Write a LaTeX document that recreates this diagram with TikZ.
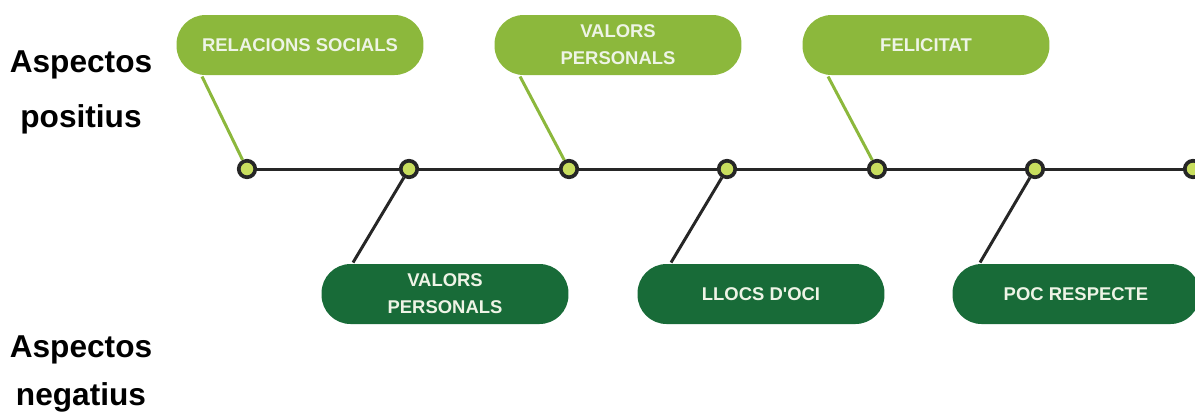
\documentclass[tikz,border=0pt]{standalone}
\usepackage{fontspec}
\setmainfont{Liberation Sans}
\usepackage{tikz}
\usepackage{xcolor}
\usetikzlibrary{positioning}

\definecolor{lightgreen}{HTML}{8CB83C}
\definecolor{darkgreen}{HTML}{186B38}
\definecolor{dotgreen}{HTML}{C8DE5E}
\definecolor{boxtext}{HTML}{EEF4E6}

\begin{document}
\begin{tikzpicture}[x=0.02cm, y=-0.02cm, line width=1.7pt,
                box node/.style={rounded corners=0.58cm, minimum width=4.94cm,
                  minimum height=1.2cm, align=center, inner sep=0pt, text=boxtext,
                  font=\fontsize{10.5}{15.3}\selectfont\bfseries},
                pos node/.style={box node, fill=lightgreen},
                neg node/.style={box node, fill=darkgreen},
                dot node/.style={circle, draw=black!85, fill=dotgreen, line width=2.1pt,
                  minimum size=0.33cm, inner sep=0pt},
                side label/.style={anchor=base, font=\fontsize{18}{20}\selectfont\bfseries}]

  \useasboundingbox (0,0) rectangle (1195,414);

  % side labels
  \node[side label] (p1) at (81,72) {Aspectos};
  \node[side label] (p2) at (81,127) {positius};
  \node[side label] (n1) at (81,357) {Aspectos};
  \node[side label] (n2) at (81,405) {negatius};

  % dots on the line
  \foreach \x [count=\i] in {247,409,569,727,877,1035,1193}
    \node[dot node] (d\i) at (\x,169) {};

  \draw[black!85] (d1) -- (d2) -- (d3) -- (d4) -- (d5) -- (d6) -- (d7);

  % positive aspects
  \node[pos node] (rs) at (300,45) {RELACIONS SOCIALS};
  \node[pos node] (vp) at (618,45) {VALORS\\PERSONALS};
  \node[pos node] (fe) at (926,45) {FELICITAT};

  % negative aspects
  \node[neg node] (vn) at (445,294) {VALORS\\PERSONALS};
  \node[neg node] (lo) at (761,294) {LLOCS D\textquotesingle OCI};
  \node[neg node] (pr) at (1076,294) {POC RESPECTE};

  \path[draw=lightgreen]
    ([xshift=0.54cm]rs.south west) edge (d1)
    ([xshift=0.54cm]vp.south west) edge (d3)
    ([xshift=0.54cm]fe.south west) edge (d5);

  \path[draw=black!85]
    (d2) edge ([xshift=0.66cm]vn.north west)
    (d4) edge ([xshift=0.70cm]lo.north west)
    (d6) edge ([xshift=0.58cm]pr.north west);
\end{tikzpicture}
\end{document}
